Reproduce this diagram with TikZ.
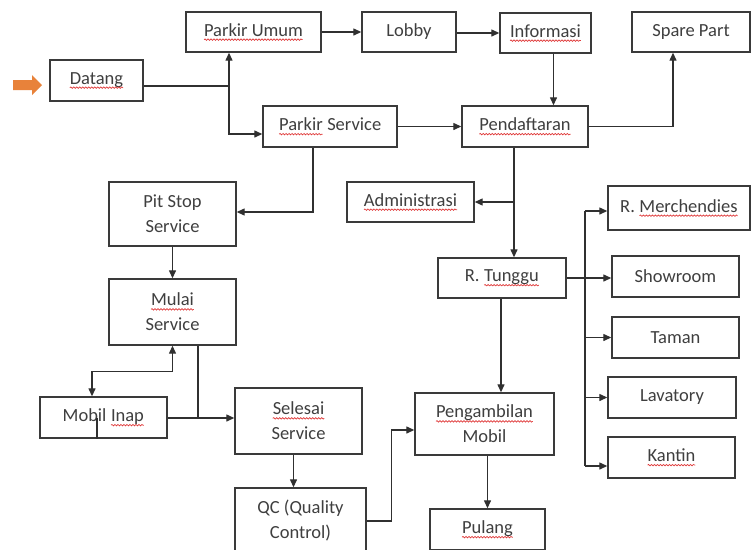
\documentclass[tikz,border=0pt]{standalone}
\usepackage{fontspec}
\setmainfont{Carlito}
\usetikzlibrary{arrows.meta,decorations.pathmorphing}
\definecolor{ink}{HTML}{3F3F3F}
\definecolor{edge}{HTML}{3A3A3A}
\definecolor{wire}{HTML}{303030}
\definecolor{spellred}{HTML}{E03A3A}
\definecolor{flow}{HTML}{E8823A}
% red wavy underline under a word
\newcommand\spell[1]{\tikz[baseline=(w.base)]{\node[draw=none,minimum width=0pt,minimum height=0pt,
    inner sep=0pt,outer sep=0pt](w){#1};
  \draw[spellred,line width=0.7pt,decorate,decoration={snake,amplitude=0.7pt,segment length=3pt}]
  ([yshift=-3.5pt]w.base west) -- ([yshift=-3.5pt]w.base east);}}
\tikzset{
  box/.style={draw=edge,line width=1.4pt,text=ink,align=center,inner sep=0pt,
    font=\fontsize{18.5}{25}\selectfont},
  wired/.style={draw=wire,line width=1.3pt},
  arr/.style={wired,-{Triangle[length=8pt,width=7pt]}},
  biarr/.style={wired,{Triangle[length=8pt,width=7pt]}-{Triangle[length=8pt,width=7pt]}},
}
\begin{document}
\begin{tikzpicture}[x=1pt,y=-1pt]
\useasboundingbox[fill=white] (0,0) rectangle (751,549);
% entry marker
\fill[flow] (13,80) -- (32,80) -- (32,75) -- (42,85) -- (32,95) -- (32,90) -- (13,90) -- cycle;
% boxes
\node[box,minimum width=93pt,minimum height=41pt] (datang) at (96.5,80.5) {\spell{Datang}};
\node[box,minimum width=135pt,minimum height=40pt] (pumum) at (253.5,32) {\spell{Parkir Umum}};
\node[box,minimum width=94pt,minimum height=40pt] (lobby) at (409,32) {Lobby};
\node[box,minimum width=91pt,minimum height=40pt] (info) at (545.5,33) {\spell{Informasi}};
\node[box,minimum width=118pt,minimum height=40pt] (spare) at (691,32) {Spare Part};
\node[box,minimum width=134pt,minimum height=41pt] (pservice) at (330,126.5) {\spell{Parkir} Service};
\node[box,minimum width=126pt,minimum height=41pt] (pendaf) at (525,126.5) {\spell{Pendaftaran}};
\node[box,minimum width=127pt,minimum height=64pt] (pitstop) at (172.5,214) {Pit Stop\\Service};
\node[box,minimum width=127pt,minimum height=40pt] (admin) at (410.5,202) {\spell{Administrasi}};
\node[box,minimum width=142pt,minimum height=44pt] (merch) at (679,208) {R. \spell{Merchendies}};
\node[box,minimum width=128pt,minimum height=40pt] (tunggu) at (502,278) {R. \spell{Tunggu}};
\node[box,minimum width=127pt,minimum height=41pt] (showroom) at (675.5,276.5) {Showroom};
\node[box,minimum width=127pt,minimum height=41pt] (taman) at (675.5,337.5) {Taman};
\node[box,minimum width=128pt,minimum height=41pt] (lavatory) at (672,397.5) {Lavatory};
\node[box,minimum width=127pt,minimum height=41pt] (kantin) at (671.5,457.5) {\spell{Kantin}};
\node[box,minimum width=127pt,minimum height=66pt] (mulai) at (172.5,312) {\spell{Mulai}\\Service};
\node[box,minimum width=127pt,minimum height=41pt] (mobil) at (103.5,417.5) {Mobil \spell{Inap}};
\node[box,minimum width=127pt,minimum height=66pt] (selesai) at (298.5,421) {\spell{Selesai}\\Service};
\node[box,minimum width=139pt,minimum height=62pt] (peng) at (484.5,424) {\spell{Pengambilan}\\Mobil};
\node[box,minimum width=131pt,minimum height=66pt] (qc) at (300.5,521) {QC (Quality\\Control)};
\node[box,minimum width=115pt,minimum height=41pt] (pulang) at (487.5,529.5) {\spell{Pulang}};
% connectors
\coordinate (j) at (229,86);
\draw[wired] (datang.east |- j) -- (j);
\draw[arr] (j) -- (j |- pumum.south);
\draw[arr] (j) |- ([yshift=-7.5pt]pservice.west);
\draw[arr] (pumum.east) -- (lobby.west);
\draw[arr] (lobby.east |- info.west) -- (info.west);
\draw[arr] ([xshift=8pt]info.south) -- ([xshift=8pt]info.south |- pendaf.north);
\draw[arr] (pservice.east) -- (pendaf.west);
\draw[arr] (pendaf.east) -| ([xshift=-18pt]spare.south);
\draw[arr] ([xshift=-17pt]pservice.south) |- ([yshift=2pt]pitstop.east);
\draw[arr] ([xshift=-11pt]pendaf.south) -- ([xshift=-11pt]pendaf.south |- tunggu.north);
\draw[arr] ([xshift=-11pt]pendaf.south |- admin.east) -- (admin.east);
% facilities bus
\coordinate (bt) at (585,211);
\coordinate (bb) at (585,466);
\draw[wired] (bt) -- (bb);
\draw[arr] (bt) -- (bt -| merch.west);
\draw[arr] (tunggu.east) -- (tunggu.east -| showroom.west);
\draw[arr] (bt |- taman.west) -- (taman.west);
\draw[arr] (bt |- lavatory.west) -- (lavatory.west);
\draw[arr] (bb) -- (bb -| kantin.west);
\draw[arr] ([xshift=-1pt]tunggu.south) -- ([xshift=-1pt]tunggu.south |- peng.north);
\draw[arr] (pulang.north |- peng.south) -- (pulang.north);
\draw[arr] (qc.east) -- ++(25,0) |- ([yshift=-6pt]peng.west);
\draw[arr] (pitstop.south) -- (mulai.north);
\draw[biarr] (mulai.south) -- ++(0,26) -| ([xshift=-11.5pt]mobil.north);
\coordinate (m) at (198,418);
\draw[wired] (m |- mulai.south) -- (m);
\draw[wired] (mobil.east |- m) -- (m);
\draw[arr] (m) -- (m -| selesai.west);
\draw[wired] ([xshift=-6.5pt]mobil.south) -- ([xshift=-6.5pt]mobil.center);
\draw[arr] ([xshift=-5pt]selesai.south) -- ([xshift=-5pt]selesai.south |- qc.north);
\end{tikzpicture}
\end{document}
